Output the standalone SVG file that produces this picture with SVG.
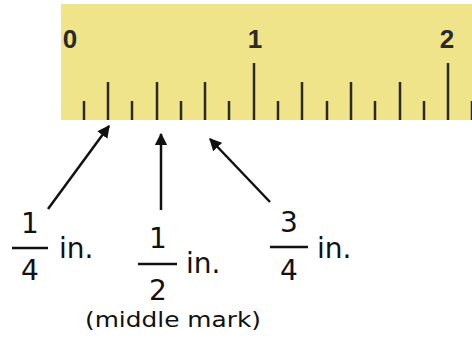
<svg xmlns="http://www.w3.org/2000/svg" width="472" height="339" viewBox="0 0 472 339">
<defs>
<style>
.tick{stroke:#2a2a20;stroke-width:2.5}
.num{font-family:"Liberation Sans",Arial,sans-serif;font-size:26px;font-weight:bold;fill:#2a2a2a;text-anchor:middle}
.frac{font-family:"DejaVu Sans","Liberation Sans",sans-serif;font-size:28px;fill:#111;text-anchor:middle}
.unit{font-family:"DejaVu Sans","Liberation Sans",sans-serif;font-size:28px;fill:#111}
.note{font-family:"DejaVu Sans","Liberation Sans",sans-serif;font-size:22px;fill:#111;text-anchor:middle}
.bar{stroke:#111;stroke-width:2.5}
.arr{stroke:#111;stroke-width:2.5;fill:none;marker-end:url(#ah)}
</style>
<marker id="ah" viewBox="0 0 10 10" refX="9" refY="5" markerWidth="5" markerHeight="5" orient="auto" markerUnits="strokeWidth">
<path d="M0,0 L10,5 L0,10 z" fill="#111"/>
</marker>
</defs>
<g id="ruler">
<rect x="61" y="4" width="411" height="116" fill="#efe489"/>
<text class="num" x="70" y="48">0</text>
<text class="num" x="255" y="48">1</text>
<text class="num" x="447" y="48">2</text>
<g class="tick">
<line x1="84" y1="101" x2="84" y2="120"/>
<line x1="108" y1="82" x2="108" y2="120"/>
<line x1="132" y1="101" x2="132" y2="120"/>
<line x1="157" y1="82" x2="157" y2="120"/>
<line x1="181" y1="101" x2="181" y2="120"/>
<line x1="205" y1="82" x2="205" y2="120"/>
<line x1="229" y1="101" x2="229" y2="120"/>
<line x1="254" y1="63" x2="254" y2="120"/>
<line x1="278" y1="101" x2="278" y2="120"/>
<line x1="302" y1="82" x2="302" y2="120"/>
<line x1="327" y1="101" x2="327" y2="120"/>
<line x1="351" y1="82" x2="351" y2="120"/>
<line x1="375" y1="101" x2="375" y2="120"/>
<line x1="400" y1="82" x2="400" y2="120"/>
<line x1="424" y1="101" x2="424" y2="120"/>
<line x1="448" y1="63" x2="448" y2="120"/>
<line x1="472" y1="101" x2="472" y2="120"/>
</g>
</g>
<g id="connectors">
<line class="arr" x1="48" y1="209" x2="109" y2="126"/>
<line class="arr" x1="161" y1="210" x2="161" y2="134"/>
<line class="arr" x1="270" y1="202" x2="210" y2="139"/>
</g>
<g id="quarter">
<text class="frac" x="30" y="233">1</text>
<line class="bar" x1="12" y1="248" x2="48" y2="248"/>
<text class="frac" x="30" y="280">4</text>
<text class="unit" x="59" y="258">in.</text>
</g>
<g id="half">
<text class="frac" x="158" y="248">1</text>
<line class="bar" x1="138" y1="264" x2="177" y2="264"/>
<text class="frac" x="158" y="300">2</text>
<text class="unit" x="186" y="273">in.</text>
<text class="note" x="173" y="327" textLength="176" lengthAdjust="spacingAndGlyphs">(middle mark)</text>
</g>
<g id="threequarter">
<text class="frac" x="289" y="232">3</text>
<line class="bar" x1="270" y1="247" x2="308" y2="247"/>
<text class="frac" x="289" y="280">4</text>
<text class="unit" x="317" y="258">in.</text>
</g>
</svg>
